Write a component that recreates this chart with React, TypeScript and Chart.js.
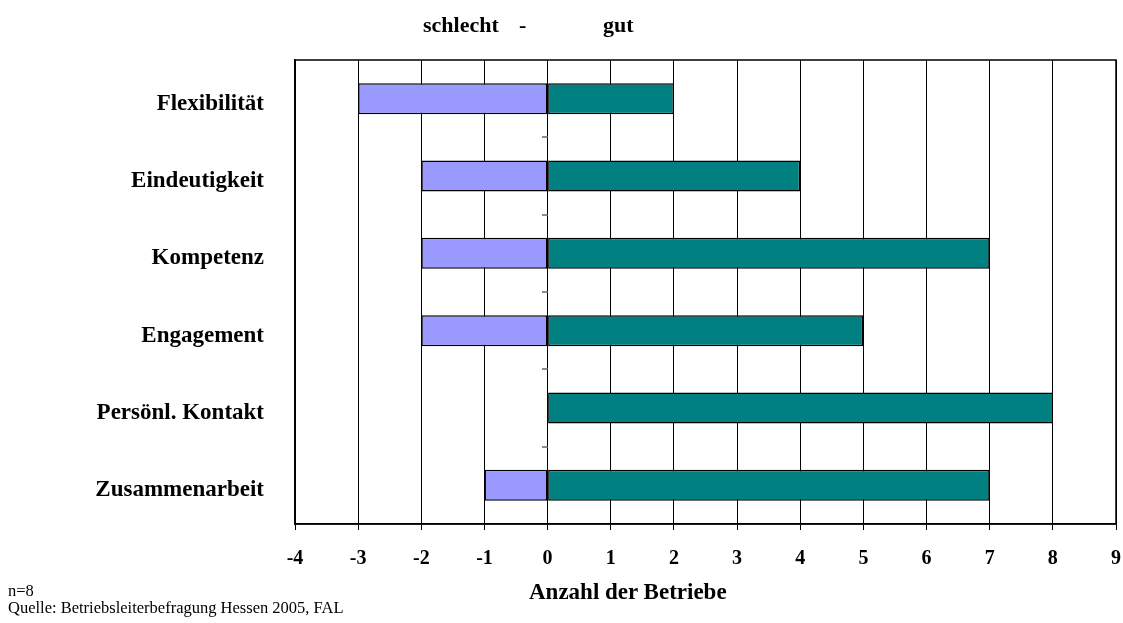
import React, { useEffect, useRef } from "react";
import { Chart, registerables } from "chart.js";

Chart.register(...registerables);

const categories = ["Flexibilität", "Eindeutigkeit", "Kompetenz", "Engagement", "Persönl. Kontakt", "Zusammenarbeit"];
const schlechtValues = [-3, -2, -2, -2, 0, -1];
const gutValues = [2, 4, 7, 5, 8, 7];
const xMin = -4;
const xMax = 9;

const FONT = "'Liberation Serif', 'Times New Roman', serif";

const framePlugin = {
  id: "frame",
  afterDraw(chart: any) {
    const { ctx, chartArea } = chart;
    const x = chart.scales.x;
    const y = chart.scales.y;
    ctx.save();
    ctx.strokeStyle = "#666";
    ctx.lineWidth = 1.5;
    const x0 = Math.round(x.getPixelForValue(0));
    for (let i = 0; i < categories.length - 1; i++) {
      const yy = Math.round((y.getPixelForValue(i) + y.getPixelForValue(i + 1)) / 2);
      ctx.beginPath();
      ctx.moveTo(x0 - 6, yy);
      ctx.lineTo(x0, yy);
      ctx.stroke();
    }
    ctx.strokeStyle = "#000";
    ctx.lineWidth = 1.5;
    ctx.strokeRect(chartArea.left, chartArea.top, chartArea.right - chartArea.left, chartArea.bottom - chartArea.top);
    ctx.restore();
  },
};

export default function App() {
  const ref = useRef<HTMLCanvasElement>(null);
  useEffect(() => {
    if (!ref.current) return;
    const chart = new Chart(ref.current, {
      type: "bar",
      data: {
        labels: categories,
        datasets: [
          {
            label: "schlecht",
            data: schlechtValues,
            backgroundColor: "#9999FF",
            borderColor: "#000",
            borderWidth: 1.5,
            borderSkipped: false,
            barPercentage: 0.8,
            categoryPercentage: 0.5,
          },
          {
            label: "gut",
            data: gutValues,
            backgroundColor: "#008080",
            borderColor: "#000",
            borderWidth: 1.5,
            borderSkipped: false,
            barPercentage: 0.8,
            categoryPercentage: 0.5,
          },
        ],
      },
      options: {
        indexAxis: "y",
        animation: false,
        responsive: false,
        maintainAspectRatio: false,
        layout: { padding: { left: 0, top: 60, right: 7, bottom: 0 } },
        plugins: {
          legend: { display: false },
          tooltip: { enabled: false },
        },
        scales: {
          x: {
            type: "linear",
            min: xMin,
            max: xMax,
            stacked: true,
            ticks: {
              stepSize: 1,
              color: "#000",
              padding: 17,
              font: { family: FONT, size: 20, weight: "bold" },
            },
            grid: {
              color: "#000",
              lineWidth: 1,
              tickLength: 6,
              tickColor: "#000",
            },
            border: { display: true, color: "#000", width: 1.5 },
            afterFit(scale: any) {
              scale.height = 99;
              scale.paddingLeft = 0;
              scale.paddingRight = 0;
            },
          },
          y: {
            stacked: true,
            ticks: {
              color: "#000",
              padding: 31,
              labelOffset: 5,
              font: { family: FONT, size: 23, weight: "bold" },
            },
            grid: { display: false, drawTicks: false },
            border: { display: true, color: "#000", width: 1.5 },
            afterFit(scale: any) {
              scale.width = 295;
            },
          },
        },
      },
      plugins: [framePlugin],
    });
    return () => chart.destroy();
  }, []);

  const bold: React.CSSProperties = { position: "absolute", fontFamily: FONT, fontWeight: "bold", fontSize: 22, color: "#000", whiteSpace: "nowrap", lineHeight: 1 };
  const reg: React.CSSProperties = { position: "absolute", fontFamily: FONT, fontSize: 16.5, color: "#000", whiteSpace: "nowrap", lineHeight: 1 };

  return (
    <div style={{ position: "fixed", left: 0, top: 0, width: 1123, height: 623, background: "#fff" }}>
      <canvas ref={ref} width={1123} height={623} style={{ position: "absolute", left: 0, top: 0 }} />
      <div style={{ ...bold, left: 423, top: 14 }}>schlecht</div>
      <div style={{ ...bold, left: 519, top: 14 }}>-</div>
      <div style={{ ...bold, left: 603, top: 14 }}>gut</div>
      <div style={{ ...bold, fontSize: 23, left: 529, top: 580 }}>Anzahl der Betriebe</div>
      <div style={{ ...reg, left: 8, top: 583 }}>n=8</div>
      <div style={{ ...reg, left: 8, top: 600 }}>Quelle: Betriebsleiterbefragung Hessen 2005, FAL</div>
    </div>
  );
}
